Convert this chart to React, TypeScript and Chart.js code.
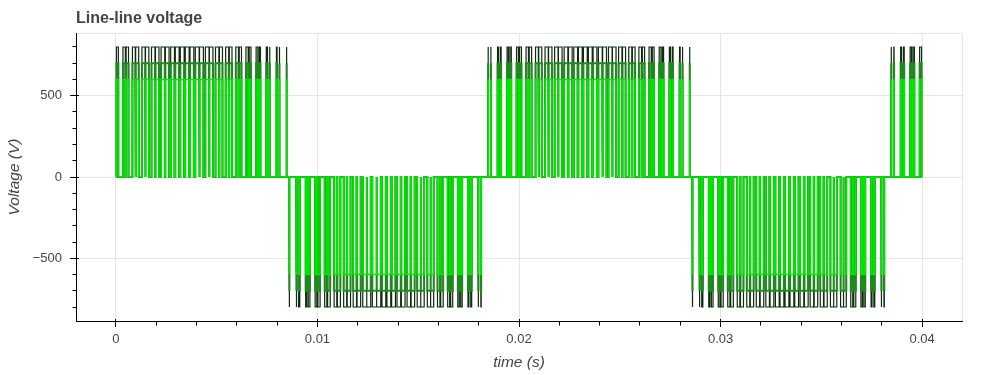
import React, { useEffect, useRef } from 'react';
import { Chart, registerables } from 'chart.js';

Chart.register(...registerables);

// ---------- data ----------
const chartTitle = 'Line-line voltage';
const xAxisTitle = 'time (s)';
const yAxisTitle = 'Voltage (V)';

const xTicks = [0, 0.01, 0.02, 0.03, 0.04];
const xTickLabels = ['0', '0.01', '0.02', '0.03', '0.04'];
const yTicks = [-500, 0, 500];
const yTickLabels = ['−500', '0', '500'];

const xRange = [-0.00198, 0.04198];
const yRange = [-886, 886];

const tStart = 0;
const tEnd = 0.04;
const carrierPeriod = 1 / 2050;

// three traces: same switching pattern, different DC-link levels
const seriesNames = ['Vab (800 V)', 'Vab (700 V)', 'Vab (600 V)'];
const dcLevels = [800, 700, 600];
const seriesColors = ['#0d2d0d', '#1e8a1e', '#00e600'];
const seriesWidths = [1.2, 2, 1.6];

// per carrier period: on-time fraction of leg a and leg b (centred on each carrier peak)
const dutyA = [
  0.500, 0.569, 0.636, 0.700, 0.759, 0.812, 0.858, 0.895, 0.924, 0.942,
  0.950, 0.947, 0.934, 0.911, 0.878, 0.836, 0.786, 0.730, 0.668, 0.603,
  0.534, 0.466, 0.397, 0.332, 0.270, 0.214, 0.164, 0.122, 0.089, 0.066,
  0.053, 0.050, 0.058, 0.076, 0.105, 0.142, 0.188, 0.241, 0.300, 0.364,
  0.431,
  0.500, 0.569, 0.636, 0.700, 0.759, 0.812, 0.858, 0.895, 0.924, 0.942,
  0.950, 0.947, 0.934, 0.911, 0.878, 0.836, 0.786, 0.730, 0.668, 0.603,
  0.534, 0.466, 0.397, 0.332, 0.270, 0.214, 0.164, 0.122, 0.089, 0.066,
  0.053, 0.050, 0.058, 0.076, 0.105, 0.142, 0.188, 0.241, 0.300, 0.364,
  0.431,
  0.500,
];
const dutyB = [
  0.110, 0.081, 0.061, 0.051, 0.052, 0.063, 0.085, 0.116, 0.156, 0.205,
  0.260, 0.321, 0.386, 0.454, 0.523, 0.591, 0.658, 0.720, 0.777, 0.828,
  0.871, 0.906, 0.931, 0.946, 0.950, 0.944, 0.927, 0.901, 0.865, 0.820,
  0.768, 0.710, 0.647, 0.580, 0.511, 0.443, 0.375, 0.311, 0.251, 0.196,
  0.149,
  0.110, 0.081, 0.061, 0.051, 0.052, 0.063, 0.085, 0.116, 0.156, 0.205,
  0.260, 0.321, 0.386, 0.454, 0.523, 0.591, 0.658, 0.720, 0.777, 0.828,
  0.871, 0.906, 0.931, 0.946, 0.950, 0.944, 0.927, 0.901, 0.865, 0.820,
  0.768, 0.710, 0.647, 0.580, 0.511, 0.443, 0.375, 0.311, 0.251, 0.196,
  0.149,
  0.110,
];

// ---------- build step waveform from the duty tables ----------
function buildWave(level: number) {
  const pts: { x: number; y: number }[] = [{ x: tStart, y: 0 }];
  const pushPulse = (t1: number, t2: number, v: number) => {
    const s = Math.max(t1, tStart);
    const e = Math.min(t2, tEnd);
    if (e <= s) return;
    pts.push({ x: s, y: 0 }, { x: s, y: v }, { x: e, y: v }, { x: e, y: 0 });
  };
  for (let k = 0; k < dutyA.length; k++) {
    const c = k * carrierPeriod;
    const a = (dutyA[k] * carrierPeriod) / 2;
    const b = (dutyB[k] * carrierPeriod) / 2;
    if (a > b) {
      pushPulse(c - a, c - b, level);
      pushPulse(c + b, c + a, level);
    } else if (b > a) {
      pushPulse(c - b, c - a, -level);
      pushPulse(c + a, c + b, -level);
    }
  }
  pts.push({ x: tEnd, y: 0 });
  return pts;
}

const FONT = "'Liberation Sans', Arial, Helvetica, sans-serif";

const align = (p: number) => Math.round(p - 0.5) + 0.5;

const decorPlugin = {
  id: 'decor',
  beforeDraw(chart: any) {
    const { ctx, chartArea } = chart;
    const { left, right, top, bottom } = chartArea;
    ctx.save();
    ctx.strokeStyle = '#e5e5e5';
    ctx.lineWidth = 1;
    ctx.beginPath();
    ctx.moveTo(align(left), align(top));
    ctx.lineTo(align(right), align(top));
    ctx.lineTo(align(right), align(bottom));
    ctx.stroke();
    ctx.restore();
  },
  afterDraw(chart: any) {
    const { ctx, chartArea, scales } = chart;
    const { left, top, bottom } = chartArea;
    const xs = scales.x;
    const ys = scales.y;
    ctx.save();
    ctx.strokeStyle = '#000';
    ctx.lineWidth = 1;
    ctx.beginPath();
    const xStep = (xTicks[1] - xTicks[0]) / 5;
    for (let i = Math.ceil(xs.min / xStep); i * xStep <= xs.max + 1e-12; i++) {
      const px = align(xs.getPixelForValue(i * xStep));
      const major = ((i % 5) + 5) % 5 === 0;
      const yb = align(bottom);
      if (major) {
        ctx.moveTo(px, yb - 2.5);
        ctx.lineTo(px, yb);
      } else {
        ctx.moveTo(px, yb);
        ctx.lineTo(px, yb + 4);
      }
    }
    const yStep = (yTicks[1] - yTicks[0]) / 5;
    for (let i = Math.ceil(ys.min / yStep); i * yStep <= ys.max; i++) {
      const py = align(ys.getPixelForValue(i * yStep));
      const major = ((i % 5) + 5) % 5 === 0;
      const xl = align(left);
      if (major) {
        ctx.moveTo(xl, py);
        ctx.lineTo(xl + 2.5, py);
      } else {
        ctx.moveTo(xl, py);
        ctx.lineTo(xl - 4, py);
      }
    }
    ctx.stroke();

    ctx.fillStyle = '#444';
    ctx.font = `bold 16px ${FONT}`;
    ctx.textAlign = 'left';
    ctx.textBaseline = 'alphabetic';
    ctx.fillText(chartTitle, left, top - 10);
    ctx.restore();
  },
};

export default function App() {
  const canvasRef = useRef<HTMLCanvasElement | null>(null);

  useEffect(() => {
    const canvas = canvasRef.current;
    if (!canvas) return;
    const datasets = dcLevels
      .map((lvl, i) => ({
        label: seriesNames[i],
        data: buildWave(lvl),
        borderColor: seriesColors[i],
        backgroundColor: seriesColors[i],
        borderWidth: seriesWidths[i],
        pointRadius: 0,
        tension: 0,
        fill: false,
        order: dcLevels.length - i,
      }));

    const chart = new Chart(canvas, {
      type: 'line',
      data: { datasets },
      options: {
        animation: false,
        responsive: false,
        events: [],
        parsing: false,
        normalized: true,
        layout: { padding: { top: 33, right: 38, left: 0, bottom: 0 } },
        plugins: {
          legend: { display: false },
          tooltip: { enabled: false },
          title: { display: false },
        },
        scales: {
          x: {
            type: 'linear',
            min: xRange[0],
            max: xRange[1],
            afterBuildTicks: (s: any) => {
              s.ticks = xTicks.map((v) => ({ value: v }));
            },
            afterFit: (s: any) => {
              s.height = 54;
            },
            ticks: {
              callback: (v: any) => xTickLabels[xTicks.indexOf(Number(v))] ?? '',
              font: { family: FONT, size: 13 },
              color: '#444',
              padding: 5,
              maxRotation: 0,
              autoSkip: false,
            },
            grid: { color: '#e5e5e5', tickColor: '#000', tickLength: 6, lineWidth: 1 },
            border: { display: true, color: '#000', width: 1 },
            title: {
              display: true,
              text: xAxisTitle,
              font: { family: FONT, size: 15.5, style: 'italic' },
              color: '#444',
              padding: { top: 0, bottom: 3 },
            },
          },
          y: {
            type: 'linear',
            min: yRange[0],
            max: yRange[1],
            afterBuildTicks: (s: any) => {
              s.ticks = yTicks.map((v) => ({ value: v }));
            },
            afterFit: (s: any) => {
              s.width = 76;
            },
            ticks: {
              callback: (v: any) => yTickLabels[yTicks.indexOf(Number(v))] ?? '',
              font: { family: FONT, size: 13 },
              color: '#444',
              padding: 8,
              autoSkip: false,
            },
            grid: { color: '#e5e5e5', tickColor: '#000', tickLength: 6, lineWidth: 1 },
            border: { display: true, color: '#000', width: 1 },
            title: {
              display: true,
              text: yAxisTitle,
              font: { family: FONT, size: 15.5, style: 'italic' },
              color: '#444',
              padding: { top: 5, bottom: 0 },
            },
          },
        },
      } as any,
      plugins: [decorPlugin],
    });
    return () => chart.destroy();
  }, []);

  return (
    <div style={{ position: 'fixed', left: 0, top: 0, width: 1000, height: 375, background: '#fff' }}>
      <canvas ref={canvasRef} width={1000} height={375} style={{ display: 'block' }} />
    </div>
  );
}
